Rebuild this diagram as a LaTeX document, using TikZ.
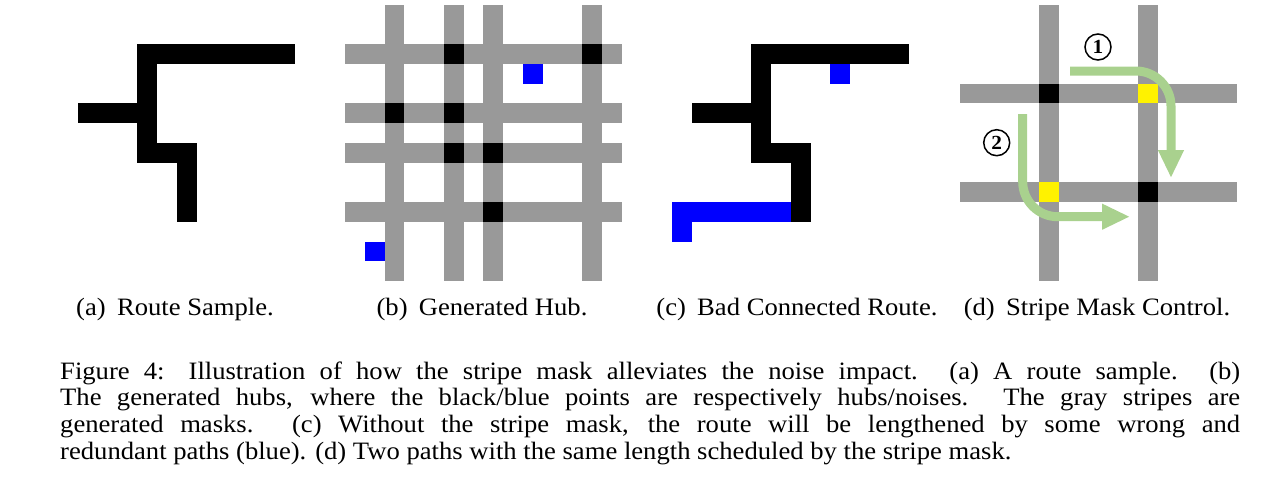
\documentclass[tikz,border=0pt]{standalone}
\usepackage{fontspec}
\setmainfont{Liberation Serif}
\newfontfamily\capfont[FakeStretch=1.065]{Liberation Serif}
\usetikzlibrary{arrows.meta}
\definecolor{stripegray}{HTML}{999999}
\definecolor{pathgreen}{HTML}{A9D18E}
\begin{document}
\begin{tikzpicture}[x=1pt,y=-1pt,
  route/.style={fill=black},
  noise/.style={fill=blue},
  mask/.style={fill=stripegray},
  hub/.style={fill=black},
  pick/.style={fill=yellow},
  flow/.style={draw=pathgreen, line width=9pt, rounded corners=35pt,
    -{Triangle[width=24pt,length=28pt]}},
  circnum/.style={circle, draw=black, line width=1.5pt, minimum size=26pt,
    inner sep=0pt, font=\capfont\fontsize{20}{20}\selectfont\bfseries},
  subcap/.style={anchor=base, inner sep=0pt, font=\capfont\fontsize{25}{26.7}\selectfont},
  capline/.style={anchor=base west, inner sep=0pt, font=\capfont\fontsize{25}{26.7}\selectfont}
]
\useasboundingbox (0,0) rectangle (1262,493);

% ---------- (a) Route sample ----------
\begin{scope}[xshift=78pt,yshift=-44pt,x=19.75pt,y=-19.75pt]
  \fill[route] (3,0) rectangle (11,1);
  \fill[route] (3,0) rectangle (4,6);
  \fill[route] (0,3) rectangle (3,4);
  \fill[route] (3,5) rectangle (6,6);
  \fill[route] (5,5) rectangle (6,9);
\end{scope}

% ---------- (b) Generated hub ----------
\begin{scope}[xshift=345pt,yshift=-44pt,x=19.75pt,y=-19.75pt]
  \foreach \r in {0,3,5,8} \fill[mask] (0,\r) rectangle (14,\r+1);
  \foreach \c in {2,5,7,12} \fill[mask] (\c,-2) rectangle (\c+1,12);
  \foreach \c/\r in {5/0,12/0,2/3,5/3,5/5,7/5,7/8} \fill[hub] (\c,\r) rectangle (\c+1,\r+1);
  \fill[noise] (9,1) rectangle (10,2);
  \fill[noise] (1,10) rectangle (2,11);
\end{scope}

% ---------- (c) Bad connected route ----------
\begin{scope}[xshift=692pt,yshift=-44pt,x=19.75pt,y=-19.75pt]
  \fill[route] (3,0) rectangle (11,1);
  \fill[route] (3,0) rectangle (4,6);
  \fill[route] (0,3) rectangle (3,4);
  \fill[route] (3,5) rectangle (6,6);
  \fill[route] (5,5) rectangle (6,9);
  \fill[noise] (-1,8) rectangle (5,9);
  \fill[noise] (-1,9) rectangle (0,10);
  \fill[noise] (7,1) rectangle (8,2);
\end{scope}

% ---------- (d) Stripe mask control ----------
\begin{scope}[xshift=960pt,yshift=-44pt,x=19.75pt,y=-19.75pt]
  \foreach \r in {2,7} \fill[mask] (0,\r) rectangle (14,\r+1);
  \foreach \c in {4,9} \fill[mask] (\c,-2) rectangle (\c+1,12);
  \fill[hub] (4,2) rectangle (5,3);
  \fill[hub] (9,7) rectangle (10,8);
  \fill[pick] (9,2) rectangle (10,3);
  \fill[pick] (4,7) rectangle (5,8);
\end{scope}

\coordinate (a1s) at (1070,71);
\coordinate (a1e) at (1171,178);
\coordinate (a2s) at (1022.7,114);
\coordinate (a2e) at (1130,216.7);
\draw[flow] (a1s) -| (a1e);
\draw[flow] (a2s) |- (a2e);
\node[circnum] (n1) at (1098,47) {1};
\node[circnum] (n2) at (996.7,142.7) {2};

% ---------- sub-captions ----------
\node[subcap] (capa) at (175,315) {(a)\hspace{0.45em}Route Sample.};
\node[subcap] (capb) at (482,315) {(b)\hspace{0.45em}Generated Hub.};
\node[subcap] (capc) at (797,315) {(c)\hspace{0.45em}Bad Connected Route.};
\node[subcap] (capd) at (1097,315) {(d)\hspace{0.45em}Stripe Mask Control.};

% ---------- figure caption ----------
\node[capline] (l1) at (60,379) {\makebox[1180pt][s]{Figure 4: Illustration of how the stripe mask alleviates the noise impact. (a) A route sample. (b)}};
\node[capline] (l2) at (60,405.7) {\makebox[1180pt][s]{The generated hubs, where the black/blue points are respectively hubs/noises. The gray stripes are}};
\node[capline] (l3) at (60,432.4) {\makebox[1180pt][s]{generated masks. (c) Without the stripe mask, the route will be lengthened by some wrong and}};
\node[capline] (l4) at (60,459) {redundant paths (blue). (d) Two paths with the same length scheduled by the stripe mask.};
\end{tikzpicture}
\end{document}
